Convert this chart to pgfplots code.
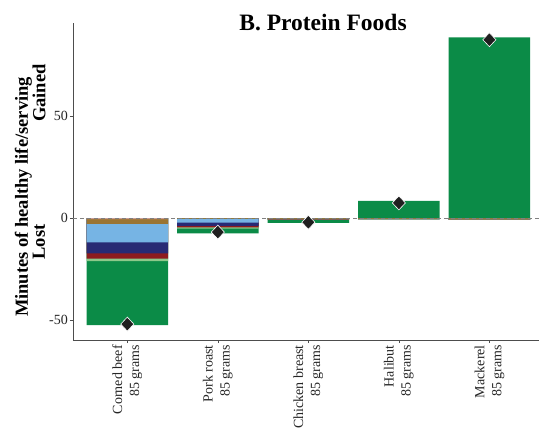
\documentclass[border=0pt]{standalone}
\usepackage{pgfplots}
\usepackage{pgfplotstable}
\pgfplotsset{compat=1.18}
\usepackage{fontspec}
\setmainfont{Liberation Serif}
\definecolor{cgreen}{HTML}{0B8B47}
\definecolor{clgreen}{HTML}{8DC88A}
\definecolor{cdred}{HTML}{8E1B1E}
\definecolor{cnavy}{HTML}{282A74}
\definecolor{clblue}{HTML}{76B4E4}
\definecolor{cbrown}{HTML}{9A7432}
\definecolor{csalmon}{HTML}{E8A0A0}
\definecolor{axgray}{HTML}{4D4D4D}
\pgfplotstableread{
x salmon brown lblue navy dred lgreen green pos net
0 -0.6 -2.9 -11.9 -17.3 -19.9 -21.1 -52.5 0 -52.0
1 -0.1 -0.4 -2.3 -3.8 -4.6 -5.2 -7.5 0 -6.9
2 -0.1 -0.5 -0.5 -0.5 -0.8 -0.9 -2.4 0 -2.1
3 0 -0.6 -0.6 -0.6 -0.6 -0.7 -0.7 8.4 7.4
4 0 -0.8 -0.8 -0.8 -0.8 -0.9 -0.9 88.6 87.4
}\data
\begin{document}
\begin{tikzpicture}
\begin{axis}[
  name=ax,
  scale only axis, width=468pt, height=317pt,
  xmin=-0.6, xmax=4.57, ymin=-59.8, ymax=95.6,
  axis x line*=bottom, axis y line*=left,
  axis line style={axgray, line width=0.6pt, -},
  tick style={axgray, line width=0.6pt},
  tick align=outside, major tick length=3pt,
  xtick={0,1,2,3,4},
  xticklabels={{Corned beef\\85 grams},{Pork roast\\85 grams},{Chicken breast\\85 grams},{Halibut\\85 grams},{Mackerel\\85 grams}},
  xticklabel style={align=right, rotate=90, anchor=east, font=\fontsize{14}{17}\selectfont, text=black!85, inner sep=2pt},
  ytick={-50,0,50},
  yticklabel style={font=\fontsize{14}{16}\selectfont, text=black!85, inner sep=2pt},
  /pgf/number format/assume math mode=true,
  clip=false,
]
\addplot[ybar, bar width=0.9, bar shift=0pt, fill=cgreen, draw=none] table[x=x, y=green] {\data};
\addplot[ybar, bar width=0.9, bar shift=0pt, fill=clgreen, draw=none] table[x=x, y=lgreen] {\data};
\addplot[ybar, bar width=0.9, bar shift=0pt, fill=cdred, draw=none] table[x=x, y=dred] {\data};
\addplot[ybar, bar width=0.9, bar shift=0pt, fill=cnavy, draw=none] table[x=x, y=navy] {\data};
\addplot[ybar, bar width=0.9, bar shift=0pt, fill=clblue, draw=none] table[x=x, y=lblue] {\data};
\addplot[ybar, bar width=0.9, bar shift=0pt, fill=cbrown, draw=none] table[x=x, y=brown] {\data};
\addplot[ybar, bar width=0.9, bar shift=0pt, fill=csalmon, draw=none] table[x=x, y=salmon] {\data};
\addplot[ybar, bar width=0.9, bar shift=0pt, fill=cgreen, draw=none] table[x=x, y=pos] {\data};
\addplot[gray, line width=0.6pt, dash pattern=on 4pt off 3pt] coordinates {(-0.6,0) (4.57,0)};
\addplot[only marks, mark=diamond*, mark size=7pt, mark options={xscale=1.25, fill=black!88, draw=white, line width=0.6pt}] table[x=x, y=net] {\data};
\end{axis}
\node[rotate=90, font=\fontsize{18.5}{20}\selectfont\bfseries] at ([shift={(-49.5pt,143pt)}]ax.south west) {Minutes of healthy life/serving};
\node[rotate=90, font=\fontsize{18.5}{20}\selectfont\bfseries] at ([shift={(-34pt,247pt)}]ax.south west) {Gained};
\node[rotate=90, font=\fontsize{18.5}{20}\selectfont\bfseries] at ([shift={(-34pt,98pt)}]ax.south west) {Lost};
\node[font=\fontsize{23.5}{25}\selectfont\bfseries, anchor=base] at ([shift={(250pt,-8pt)}]ax.north west) {B. Protein Foods};
\pgfresetboundingbox
\path ([shift={(-73pt,-104pt)}]ax.south west) rectangle ([shift={(-2pt,23pt)}]ax.north east);
\end{tikzpicture}
\end{document}
